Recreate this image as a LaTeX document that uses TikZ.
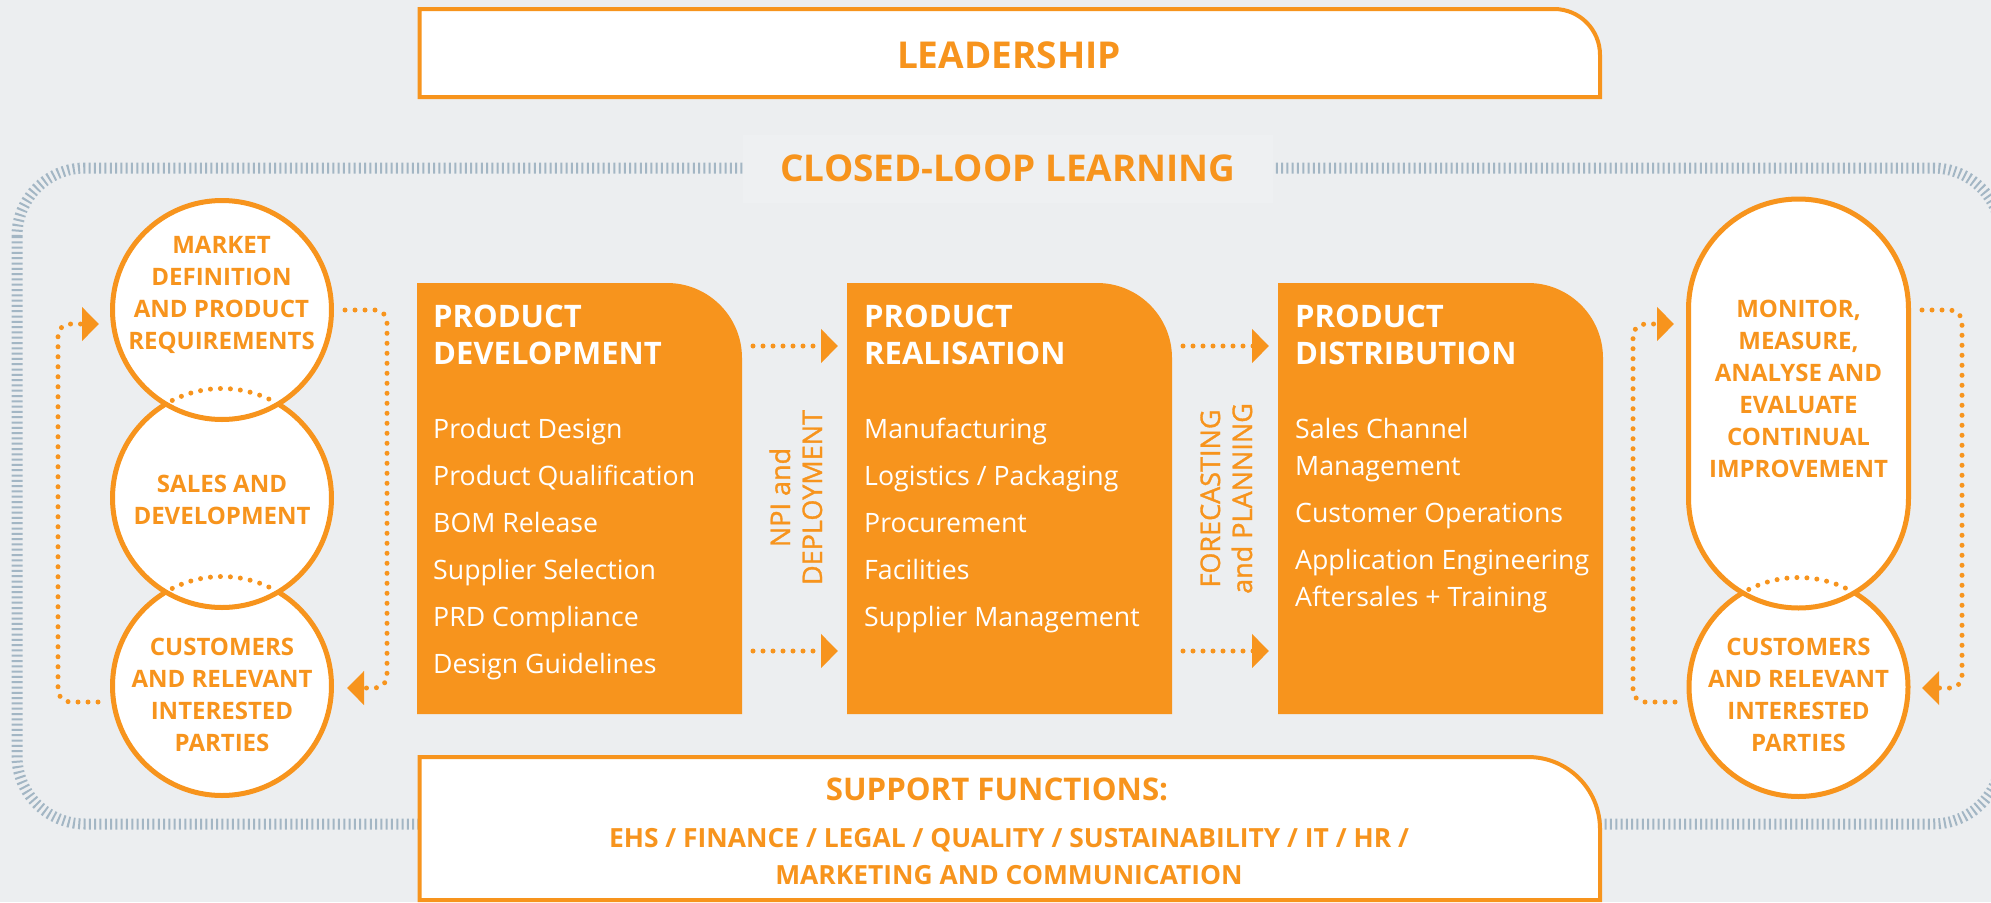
\documentclass[tikz,border=0pt]{standalone}
\usepackage{fontspec}
\setmainfont{Open Sans}
\newfontfamily\sidefont[FakeBold=1.2]{Open Sans}
\usetikzlibrary{arrows.meta}
\definecolor{orng}{HTML}{F7941D}
\definecolor{bgc}{HTML}{ECEEF0}
\definecolor{tickc}{HTML}{A3B6C4}
\definecolor{lblc}{HTML}{EEF0F2}
\newcommand\trshape[6]{\path[#6] (#1,#2) -- ({#3-#5},#2) arc[start angle=-90,end angle=0,radius=#5] -- (#3,#4) -- (#1,#4) -- cycle;}
\tikzset{
  loopline/.style={draw=tickc, line width=11pt, dash pattern=on 2pt off 3.3pt, rounded corners=68pt},
  lblbox/.style={fill=lblc, minimum width=530pt, minimum height=68pt, inner sep=0pt, text=orng, font=\fontsize{36.9}{40}\selectfont\bfseries},
  wbox/.style={draw=orng, line width=4pt, fill=white},
  obox/.style={fill=orng},
  dotline/.style={draw=orng, line width=5pt, line cap=round, dash pattern=on 0pt off 10pt},
  arrowtip/.style={-{Triangle[length=17pt,width=33pt]}},
  ring/.style={circle, draw=orng, line width=5pt, fill=white, minimum size=219pt, inner sep=0pt},
  ringpath/.style={draw=orng, line width=5pt, fill=white},
  ctext/.style={text=orng, font=\fontsize{24}{32}\selectfont\bfseries, inner sep=0pt, anchor=base},
  ttl/.style={text=white, font=\fontsize{31}{37}\selectfont\bfseries, inner sep=0pt, anchor=base west},
  itm/.style={text=white, font=\fontsize{26.7}{37}\selectfont, inner sep=0pt, anchor=base west},
  side/.style={text=orng, font=\sidefont\fontsize{27}{32}\selectfont, inner sep=0pt, rotate=90, anchor=base},
  bigtxt/.style={text=orng, font=\fontsize{37}{40}\selectfont\bfseries, inner sep=0pt, anchor=base},
  suptxt/.style={text=orng, font=\fontsize{31.2}{37}\selectfont\bfseries, inner sep=0pt, anchor=base},
  suplist/.style={text=orng, font=\fontsize{26.4}{37}\selectfont\bfseries, inner sep=0pt, anchor=base},
}
\begin{document}
\begin{tikzpicture}[x=1pt,y=-1pt]
\path[fill=bgc, use as bounding box] (0,0) rectangle (1991,902);
\clip (0,0) rectangle (1991,902);

% closed loop
\draw[loopline] (17,168) rectangle (2001,824);
\node[lblbox] (cll) at (1008,168.5) {CLOSED-LOOP LEARNING};

% leadership
\trshape{419.5}{9}{1600}{97}{46}{wbox}
\node[bigtxt] (lead) at (1009,68.5) {LEADERSHIP};

% support functions
\trshape{419.5}{757}{1600}{900}{72}{wbox}
\node[suptxt] (supt) at (997,800) {SUPPORT FUNCTIONS:};
\node[suplist] (supl) at (1009,847) {\begin{tabular}[t]{@{}c@{}}EHS / FINANCE / LEGAL / QUALITY / SUSTAINABILITY / IT / HR /\\MARKETING AND COMMUNICATION\end{tabular}};

% orange process boxes
\trshape{417}{283}{742}{714}{75}{obox}
\trshape{847}{283}{1172}{714}{75}{obox}
\trshape{1278}{283}{1603}{714}{75}{obox}

\node[ttl] (pdt) at (433,327) {\begin{tabular}[t]{@{}l@{}}PRODUCT\\DEVELOPMENT\end{tabular}};
\node[itm] (pdi) at (433,438) {\begin{tabular}[t]{@{}l@{}}Product Design\\[10pt]Product Qualification\\[10pt]BOM Release\\[10pt]Supplier Selection\\[10pt]PRD Compliance\\[10pt]Design Guidelines\end{tabular}};

\node[ttl] (prt) at (864,327) {\begin{tabular}[t]{@{}l@{}}PRODUCT\\REALISATION\end{tabular}};
\node[itm] (pri) at (864,438) {\begin{tabular}[t]{@{}l@{}}Manufacturing\\[10pt]Logistics / Packaging\\[10pt]Procurement\\[10pt]Facilities\\[10pt]Supplier Management\end{tabular}};

\node[ttl] (pbt) at (1295,327) {\begin{tabular}[t]{@{}l@{}}PRODUCT\\DISTRIBUTION\end{tabular}};
\node[itm] (pbi) at (1295,438) {\begin{tabular}[t]{@{}l@{}}Sales Channel\\Management\\[10pt]Customer Operations\\[10pt]Application Engineering\\Aftersales + Training\end{tabular}};

% arrows between boxes
\coordinate (a1s) at (753,346);  \coordinate (a1e) at (838,346);
\coordinate (a2s) at (753,651);  \coordinate (a2e) at (838,651);
\coordinate (b1s) at (1183,346); \coordinate (b1e) at (1269,346);
\coordinate (b2s) at (1183,651); \coordinate (b2e) at (1269,651);
\draw[dotline, arrowtip] (a1s) -- (a1e);
\draw[dotline, arrowtip] (a2s) -- (a2e);
\draw[dotline, arrowtip] (b1s) -- (b1e);
\draw[dotline, arrowtip] (b2s) -- (b2e);
\node[side] (npi) at (790,497.5) {\begin{tabular}[t]{@{}c@{}}NPI and\\DEPLOYMENT\end{tabular}};
\node[side] (fcp) at (1220,498.5) {\begin{tabular}[t]{@{}c@{}}FORECASTING\\and PLANNING\end{tabular}};

% left circles
\node[ring] (lc3) at (222,686) {};
\node[ring] (lc2) at (222,498) {};
\draw[dotline] ([shift={(-117:109.5)}]lc3.center) arc[start angle=-117,end angle=-63,radius=109.5];
\node[ring] (lc1) at (222,310) {};
\draw[dotline] ([shift={(-117:109.5)}]lc2.center) arc[start angle=-117,end angle=-63,radius=109.5];
\node[ctext] (lt1) at (221.5,253) {\begin{tabular}[t]{@{}c@{}}MARKET\\DEFINITION\\AND PRODUCT\\REQUIREMENTS\end{tabular}};
\node[ctext] (lt2) at (222,492) {\begin{tabular}[t]{@{}c@{}}SALES AND\\DEVELOPMENT\end{tabular}};
\node[ctext] (lt3) at (222,655) {\begin{tabular}[t]{@{}c@{}}CUSTOMERS\\AND RELEVANT\\INTERESTED\\PARTIES\end{tabular}};

% right group
\node[ring] (rc3) at (1798.5,687) {};
\path[ringpath] (1688.5,309) arc[start angle=180,end angle=360,radius=110] -- (1908.5,498) arc[start angle=0,end angle=180,radius=110] -- cycle;
\coordinate (pill) at (1798.5,403.5);
\draw[dotline] ([shift={(-117:109.5)}]rc3.center) arc[start angle=-117,end angle=-63,radius=109.5];
\node[ctext] (rt1) at (1798.5,317) {\begin{tabular}[t]{@{}c@{}}MONITOR,\\MEASURE,\\ANALYSE AND\\EVALUATE\\CONTINUAL\\IMPROVEMENT\end{tabular}};
\node[ctext] (rt3) at (1798.5,655) {\begin{tabular}[t]{@{}c@{}}CUSTOMERS\\AND RELEVANT\\INTERESTED\\PARTIES\end{tabular}};

% loop connectors
\coordinate (la1) at (98,702);   \coordinate (la2) at (58,324);   \coordinate (la3) at (99,324);
\coordinate (lb1) at (345,310);  \coordinate (lb2) at (387,688);  \coordinate (lb3) at (347,688);
\coordinate (ra1) at (1675,702); \coordinate (ra2) at (1633,324); \coordinate (ra3) at (1674,324);
\coordinate (rb1) at (1922,310); \coordinate (rb2) at (1962,688); \coordinate (rb3) at (1922,688);
\draw[dotline, arrowtip, rounded corners=12pt] (la1) -| (la2) -- (la3);
\draw[dotline, arrowtip, rounded corners=12pt] (lb1) -| (lb2) -- (lb3);
\draw[dotline, arrowtip, rounded corners=12pt] (ra1) -| (ra2) -- (ra3);
\draw[dotline, arrowtip, rounded corners=12pt] (rb1) -| (rb2) -- (rb3);
\end{tikzpicture}
\end{document}
